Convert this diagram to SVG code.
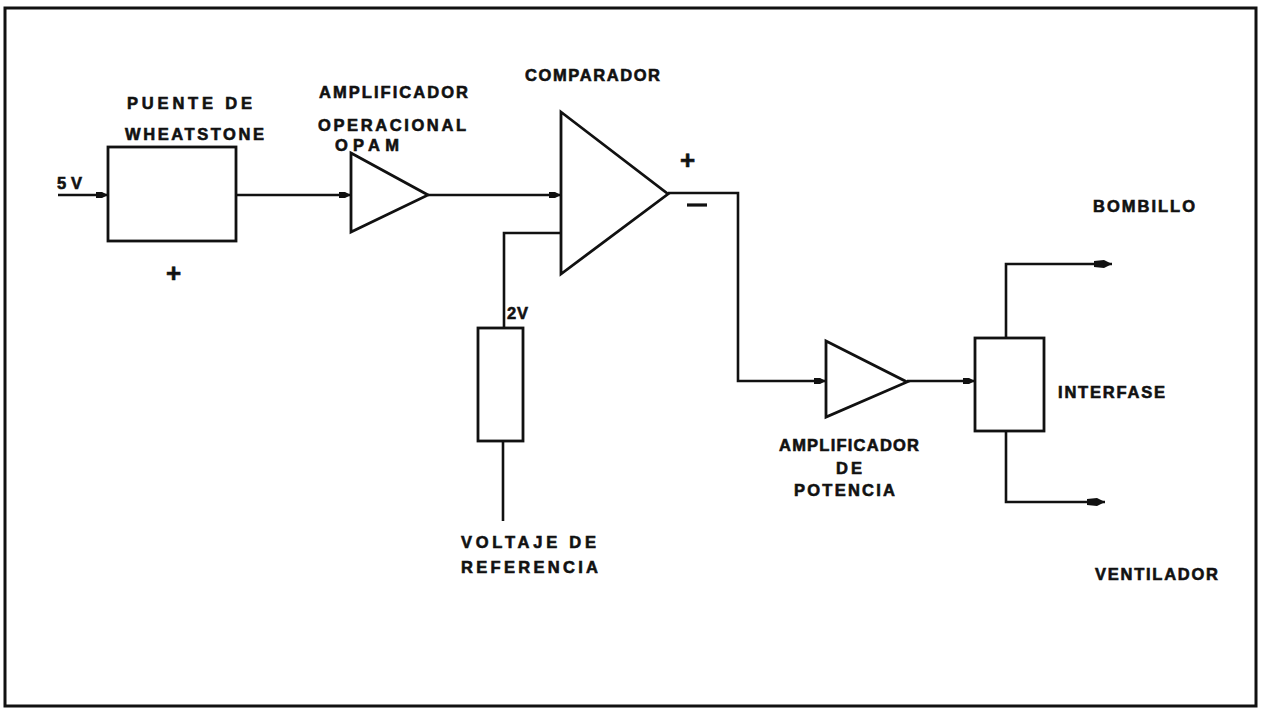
<svg xmlns="http://www.w3.org/2000/svg" width="1262" height="712" viewBox="0 0 1262 712">
<style>
.ln{fill:none;stroke:#111;stroke-width:2.6;stroke-linejoin:miter}
.sh{fill:#fff;stroke:#111;stroke-width:2.8}
text{font-family:"Liberation Sans",Arial,sans-serif;font-weight:bold;font-size:16.5px;fill:#111;stroke:#111;stroke-width:0.6}
.sym{font-size:26px}
</style>
<defs>
<marker id="ar" viewBox="0 0 12 8" refX="12" refY="4" markerWidth="12" markerHeight="8" markerUnits="userSpaceOnUse" orient="auto">
<path d="M0,1 L6,1 L12,4 L6,7 L0,7 Z" fill="#111"/>
</marker>
<marker id="ar2" viewBox="0 0 18 10" refX="18" refY="5" markerWidth="18" markerHeight="10" markerUnits="userSpaceOnUse" orient="auto">
<path d="M0,2 L10,1 L18,5 L10,9 L0,8 Z" fill="#111"/>
</marker>
</defs>
<rect x="0" y="0" width="1262" height="712" fill="#fff"/>
<rect id="frame" x="5" y="8" width="1251" height="698" fill="none" stroke="#111" stroke-width="3"/>

<g id="connectors">
<line class="ln" x1="58" y1="195" x2="108" y2="195" marker-end="url(#ar)"/>
<line class="ln" x1="236" y1="195" x2="351" y2="195" marker-end="url(#ar)"/>
<line class="ln" x1="428" y1="195" x2="561" y2="195" marker-end="url(#ar)"/>
<polyline class="ln" points="561,233 504,233 504,328"/>
<line class="ln" x1="503" y1="441" x2="503" y2="521"/>
<polyline class="ln" points="668,193 738,193 738,381 826,381" marker-end="url(#ar)"/>
<line class="ln" x1="907" y1="381" x2="975" y2="381" marker-end="url(#ar)"/>
<polyline class="ln" points="1006,338 1006,264 1112,264" marker-end="url(#ar2)"/>
<polyline class="ln" points="1006,431 1006,502 1105,502" marker-end="url(#ar2)"/>
</g>

<g id="puente">
<rect class="sh" x="108" y="147" width="128" height="94"/>
<text x="127" y="109" textLength="125" lengthAdjust="spacing">PUENTE DE</text>
<text x="125" y="140" textLength="139" lengthAdjust="spacing">WHEATSTONE</text>
<text class="sym" x="166" y="282">+</text>
<text x="57" y="189" textLength="25" lengthAdjust="spacing">5 V</text>
</g>

<g id="opam">
<polygon class="sh" points="351,153 428,195 351,232"/>
<text x="319" y="98" textLength="149" lengthAdjust="spacing">AMPLIFICADOR</text>
<text x="318" y="131" textLength="148" lengthAdjust="spacing">OPERACIONAL</text>
<text x="335" y="151" textLength="64" lengthAdjust="spacing">OPAM</text>
</g>

<g id="comparador">
<polygon class="sh" points="561,112 668,194 561,274"/>
<text x="525" y="81" textLength="135" lengthAdjust="spacing">COMPARADOR</text>
<text class="sym" x="680" y="169">+</text>
<line x1="687" y1="205" x2="707" y2="205" stroke="#111" stroke-width="3.2"/>
</g>

<g id="referencia">
<rect class="sh" x="478" y="328" width="45" height="113"/>
<text x="507" y="319" textLength="21" lengthAdjust="spacing">2V</text>
<text x="461" y="548" textLength="135" lengthAdjust="spacing">VOLTAJE DE</text>
<text x="461" y="573" textLength="137" lengthAdjust="spacing">REFERENCIA</text>
</g>

<g id="potencia">
<polygon class="sh" points="826,341 907,382 826,417"/>
<text x="779" y="451" textLength="140" lengthAdjust="spacing">AMPLIFICADOR</text>
<text x="836" y="474" textLength="26" lengthAdjust="spacing">DE</text>
<text x="794" y="496" textLength="101" lengthAdjust="spacing">POTENCIA</text>
</g>

<g id="interfase">
<rect class="sh" x="975" y="338" width="69" height="93"/>
<text x="1058" y="398" textLength="107" lengthAdjust="spacing">INTERFASE</text>
</g>

<g id="bombillo">
<text x="1093" y="212" textLength="102" lengthAdjust="spacing">BOMBILLO</text>
</g>
<g id="ventilador">
<text x="1095" y="580" textLength="123" lengthAdjust="spacing">VENTILADOR</text>
</g>
</svg>
